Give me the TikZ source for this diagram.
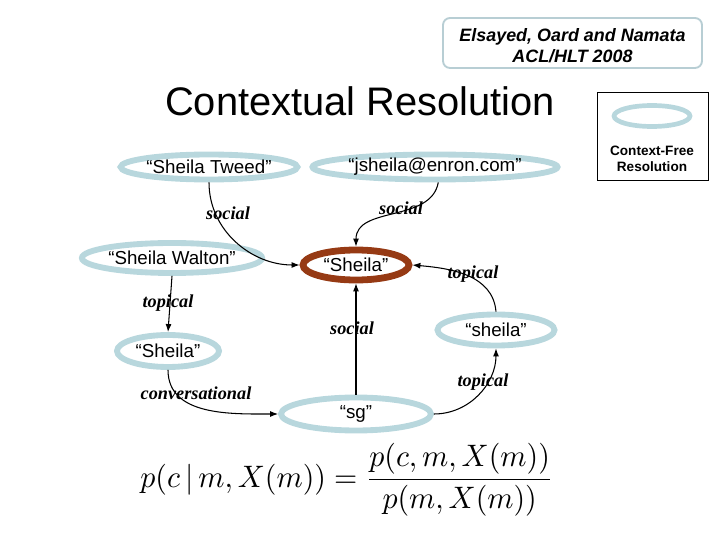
\documentclass[tikz,border=0pt]{standalone}
\usepackage{fontspec}
\setmainfont{Liberation Serif}
\setsansfont{Liberation Sans}
\usepackage{amsmath}
\usepackage{tikz}
\usetikzlibrary{positioning,arrows.meta,shapes.geometric}
\definecolor{paleblue}{RGB}{184,215,221}
\definecolor{rustbrown}{RGB}{150,58,20}
\definecolor{hdrframe}{RGB}{184,206,212}
\tikzset{
  ctx/.style   ={ellipse, draw=paleblue, line width=5pt, inner sep=0pt,
                 font=\sffamily\fontsize{16pt}{19pt}\selectfont},
  res/.style   ={ellipse, draw=rustbrown, line width=5.8pt, inner sep=0pt,
                 font=\sffamily\fontsize{16pt}{19pt}\selectfont},
  rel/.style   ={-{Latex[length=2.4mm,width=1.8mm]}, draw=black, line width=0.9pt},
  rlab/.style  ={font=\rmfamily\bfseries\itshape\fontsize{15.6pt}{18pt}\selectfont, inner sep=0pt},
}
\begin{document}
\begin{tikzpicture}[x=0.03cm,y=-0.03cm]
\useasboundingbox (0,0) rectangle (720,540);

\node[draw=hdrframe, line width=1.6pt, rounded corners=6pt, minimum width=77.7mm,
      minimum height=15mm, inner sep=0pt] (hdr) at (572.5,43) {};
\node[align=center, inner sep=0pt,
      font=\sffamily\bfseries\itshape\fontsize{15.3pt}{18pt}\selectfont] (hdrtxt) at (572.5,46)
      {Elsayed, Oard and Namata\\ACL/HLT 2008};
\node[font=\sffamily\fontsize{34pt}{40pt}\selectfont, inner sep=0pt] (title) at (360,101) {Contextual Resolution};

\node[draw=black, line width=0.6pt, minimum width=33.3mm, minimum height=26.4mm] (legbox) at (652.5,136) {};
\node[ctx, line width=4pt, minimum width=22.8mm, minimum height=6.3mm] (legell) at (652,116) {};
\node[align=center, inner sep=0pt, font=\sffamily\bfseries\fontsize{11.6pt}{13.6pt}\selectfont] (legtxt) at (652,159) {Context-Free\\Resolution};

\node[ctx, minimum width=44.1mm, minimum height=7.5mm] (tweed) at (209,167) {“Sheila Tweed”};
\node[ctx, minimum width=63.3mm, minimum height=7.5mm] (jsh) at (435,167) {“jsheila@enron.com”};
\node[ctx, minimum width=44.1mm, minimum height=9mm] (walton) at (172,258) {“Sheila Walton”};
\node[res, minimum width=31.8mm, minimum height=9mm] (sheila) at (356,265) {“Sheila”};
\node[ctx, minimum width=35.1mm, minimum height=9.3mm] (sheilar) at (496,330) {“sheila”};
\node[ctx, minimum width=30.6mm, minimum height=9.6mm] (sheilal) at (168,351) {“Sheila”};
\node[ctx, minimum width=45mm, minimum height=9.9mm] (sg) at (356,414) {“sg”};

\draw[rel] (tweed.south) to[out=-90,in=180] (sheila.west);
\draw[rel] (jsh.-78) to[out=-100,in=90] (sheila.north);
\draw[rel] (walton.south) -- (sheilal.north);
\draw[rel] (sheilal.south) to[out=-90,in=180] (sg.west);
\draw[rel] (sg.north) -- (sheila.south);
\draw[rel] (sg.east) to[out=0,in=-90] (sheilar.south);
\draw[rel] (sheilar.north) to[out=95,in=-5] (sheila.east);

\node[rlab] (l1) at (228,213) {social};
\node[rlab] (l2) at (401,208) {social};
\node[rlab] (l3) at (168,303) {topical};
\node[rlab] (l4) at (473,274) {topical};
\node[rlab] (l5) at (352,328) {social};
\node[rlab] (l6) at (196,393) {conversational};
\node[rlab] (l7) at (483,382) {topical};

\node[inner sep=0pt] (formula) at (347,480)
  {\resizebox*{123.9mm}{22mm}{$\displaystyle p(c\,|\,m,X(m))=\frac{p(c,m,X(m))}{p(m,X(m))}$}};
\end{tikzpicture}
\end{document}
